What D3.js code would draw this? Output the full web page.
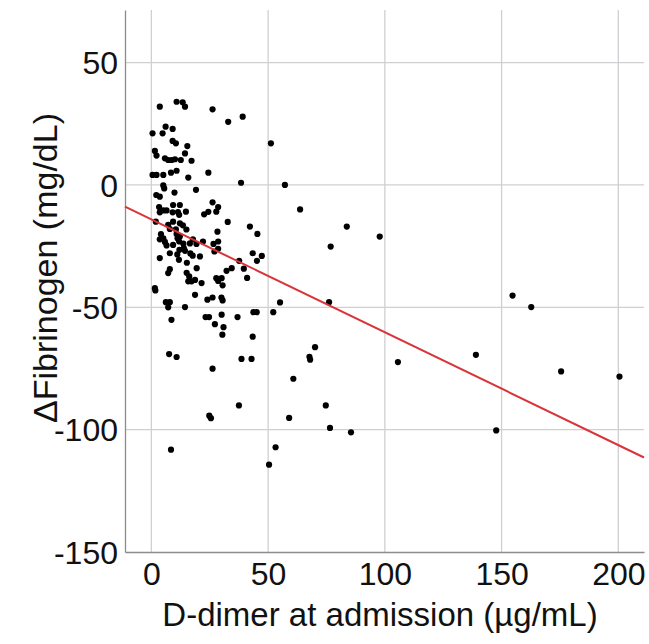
<!DOCTYPE html>
<html>
<head>
<meta charset="utf-8">
<script src="https://cdn.jsdelivr.net/npm/d3@7"></script>
<style>
  body { margin: 0; background: #fff; }
  text { font-family: "Liberation Sans", Arial, sans-serif; fill: #111; }
</style>
</head>
<body>
<script>
// D-dimer at admission (ug/mL)
var dimer = [3.6, 10.8, 13.4, 14.4, 26.2, 39.1, 32.9, 6.1, 9.1, 0.5,
  4.8, 9.1, 10.5, 15.4, 1.5, 2.2, 14.4, 5.8, 7.2, 8.7,
  10.1, 12.6, 17.2, 0.5, 2.2, 5.1, 8.4, 10.8, 15.8, 24.4,
  38.4, 51.2, 57.2, 5.1, 5.5, 2.1, 3.6, 9.9, 19.1, 26.2,
  28.6, 27.8, 24.4, 22.6, 3.3, 5.1, 6.5, 9.3, 12.2, 3.6,
  9.1, 11.4, 14.8, 11.9, 63.7, 1.9, 9.3, 12.2, 13.5, 7.2,
  7.9, 32.7, 10.5, 15.0, 4.1, 5.1, 10.8, 12.2, 28.3, 42.2,
  45.4, 83.7, 97.8, 76.8, 3.6, 5.8, 6.5, 11.2, 11.9, 13.7,
  9.3, 17.8, 19.3, 22.1, 26.6, 28.6, 16.5, 7.9, 12.0, 13.9,
  14.4, 16.7, 20.8, 17.7, 27.0, 28.6, 3.6, 11.1, 11.8, 43.4,
  47.3, 45.2, 37.6, 15.2, 19.4, 7.9, 7.2, 15.1, 16.2, 15.8,
  17.2, 18.7, 21.5, 27.8, 30.1, 28.6, 30.5, 32.2, 34.4, 39.6,
  41.0, 1.5, 1.7, 18.7, 24.0, 26.2, 30.0, 30.5, 6.2, 7.9,
  7.2, 14.4, 55.1, 76.1, 43.7, 45.1, 52.2, 8.6, 23.2, 24.7,
  30.1, 36.9, 27.2, 30.9, 30.4, 43.4, 70.1, 67.7, 68.0, 7.6,
  10.8, 38.6, 42.9, 26.2, 60.8, 37.5, 24.8, 25.5, 74.7, 59.0,
  76.5, 85.5, 8.4, 53.2, 50.4, 154.7, 162.7, 105.6, 139.0, 175.5,
  200.5, 147.7];

// change of fibrinogen (mg/dL), same order
var dFib = [32.0, 34.0, 33.8, 32.0, 30.9, 27.9, 25.8, 23.8, 22.9, 21.1,
  21.1, 18.0, 17.0, 15.9, 13.9, 12.0, 12.9, 10.9, 10.2, 10.2,
  10.5, 10.2, 9.9, 4.1, 4.1, 4.1, 5.0, 5.8, 3.0, 5.0,
  0.9, 17.0, 0.0, -0.2, -1.4, -4.1, -4.8, -3.1, -2.0, -7.1,
  -9.0, -10.9, -11.0, -12.0, -9.0, -10.4, -10.4, -8.2, -8.2, -11.2,
  -11.2, -11.1, -10.9, -12.2, -10.0, -15.0, -15.0, -15.7, -16.5, -16.3,
  -18.0, -15.1, -18.1, -18.2, -20.1, -21.8, -20.0, -21.1, -19.1, -17.0,
  -20.0, -17.0, -21.1, -25.2, -22.2, -23.3, -24.7, -21.8, -23.1, -24.0,
  -24.5, -22.2, -24.1, -23.1, -24.1, -23.1, -23.9, -27.9, -26.5, -25.8,
  -26.9, -28.0, -29.2, -28.9, -27.2, -26.1, -29.9, -28.4, -30.6, -27.9,
  -29.0, -31.0, -31.0, -31.8, -34.0, -34.4, -36.0, -35.9, -37.4, -39.4,
  -39.4, -38.8, -40.1, -38.1, -38.1, -39.2, -41.0, -35.1, -34.0, -34.2,
  -38.0, -42.2, -43.1, -44.9, -46.9, -46.0, -46.0, -47.2, -47.9, -47.9,
  -50.0, -49.9, -48.0, -47.9, -52.0, -52.0, -52.0, -55.1, -54.0, -54.0,
  -53.0, -54.0, -56.9, -58.1, -61.2, -62.0, -66.3, -70.2, -71.4, -69.1,
  -70.3, -71.1, -71.1, -75.1, -79.2, -90.1, -94.3, -95.3, -90.1, -95.2,
  -99.3, -101.1, -108.2, -107.2, -114.3, -45.2, -49.9, -72.4, -69.4, -76.2,
  -78.3, -100.3];

// linear fit shown in red
var fitIntercept = -14.1;
var fitSlope = -0.461;

// tick labels
var xTicks = [0, 50, 100, 150, 200];
var yTicks = [50, 0, -50, -100, -150];

var width = 649, height = 644;
var plotLeft = 125, plotRight = 644, plotTop = 10, plotBottom = 552;

var svg = d3.select("body").append("svg")
    .attr("width", width)
    .attr("height", height);

var x = d3.scaleLinear().domain([-11.3, 211]).range([plotLeft, plotRight]);
var y = d3.scaleLinear().domain([-150, 71.5]).range([plotBottom, plotTop]);

// plain hyphen for negatives, like the original
var plain = function(d) { return String(d); };

// grid
svg.selectAll("line.vgrid")
    .data(xTicks)
    .enter().append("line")
    .attr("class", "vgrid")
    .attr("x1", function(d) { return x(d); })
    .attr("x2", function(d) { return x(d); })
    .attr("y1", plotTop)
    .attr("y2", plotBottom)
    .attr("stroke", "#d0d0d4")
    .attr("stroke-width", 1.3);

svg.selectAll("line.hgrid")
    .data(yTicks.slice(0, 4))
    .enter().append("line")
    .attr("class", "hgrid")
    .attr("x1", plotLeft)
    .attr("x2", plotRight)
    .attr("y1", function(d) { return y(d); })
    .attr("y2", function(d) { return y(d); })
    .attr("stroke", "#d0d0d4")
    .attr("stroke-width", 1.3);

// axes
var xAxis = svg.append("g")
    .attr("transform", "translate(0," + plotBottom + ")")
    .call(d3.axisBottom(x).tickValues(xTicks).tickFormat(plain).tickSize(0).tickPadding(10));
var yAxis = svg.append("g")
    .attr("transform", "translate(" + plotLeft + ",0)")
    .call(d3.axisLeft(y).tickValues(yTicks).tickFormat(plain).tickSize(0).tickPadding(7));

xAxis.select(".domain").attr("stroke", "#8c8c8c").attr("stroke-width", 1.3);
yAxis.select(".domain").attr("stroke", "#8c8c8c").attr("stroke-width", 1.3);
svg.selectAll(".tick text")
    .attr("font-size", "32px")
    .attr("font-family", "Liberation Sans, Arial, sans-serif")
    .attr("fill", "#111");
yAxis.selectAll(".tick text").attr("dy", "0.35em");
xAxis.selectAll(".tick text").attr("dy", "0.71em");

// points
svg.append("g").selectAll("circle")
    .data(dimer)
    .enter().append("circle")
    .attr("cx", function(d) { return x(d); })
    .attr("cy", function(d, i) { return y(dFib[i]); })
    .attr("r", 3.1)
    .attr("fill", "#000");

// fit line across the whole plot
var xd = x.domain();
svg.append("line")
    .attr("x1", x(xd[0]))
    .attr("y1", y(fitIntercept + fitSlope * xd[0]))
    .attr("x2", x(xd[1]))
    .attr("y2", y(fitIntercept + fitSlope * xd[1]))
    .attr("stroke", "#d9343a")
    .attr("stroke-width", 2);

// axis titles
svg.append("text")
    .attr("x", 380)
    .attr("y", 626)
    .attr("text-anchor", "middle")
    .attr("font-size", "33px")
    .text("D-dimer at admission (µg/mL)");

svg.append("text")
    .attr("transform", "translate(57,268) rotate(-90)")
    .attr("text-anchor", "middle")
    .attr("font-size", "34px")
    .text("ΔFibrinogen (mg/dL)");
</script>
</body>
</html>
